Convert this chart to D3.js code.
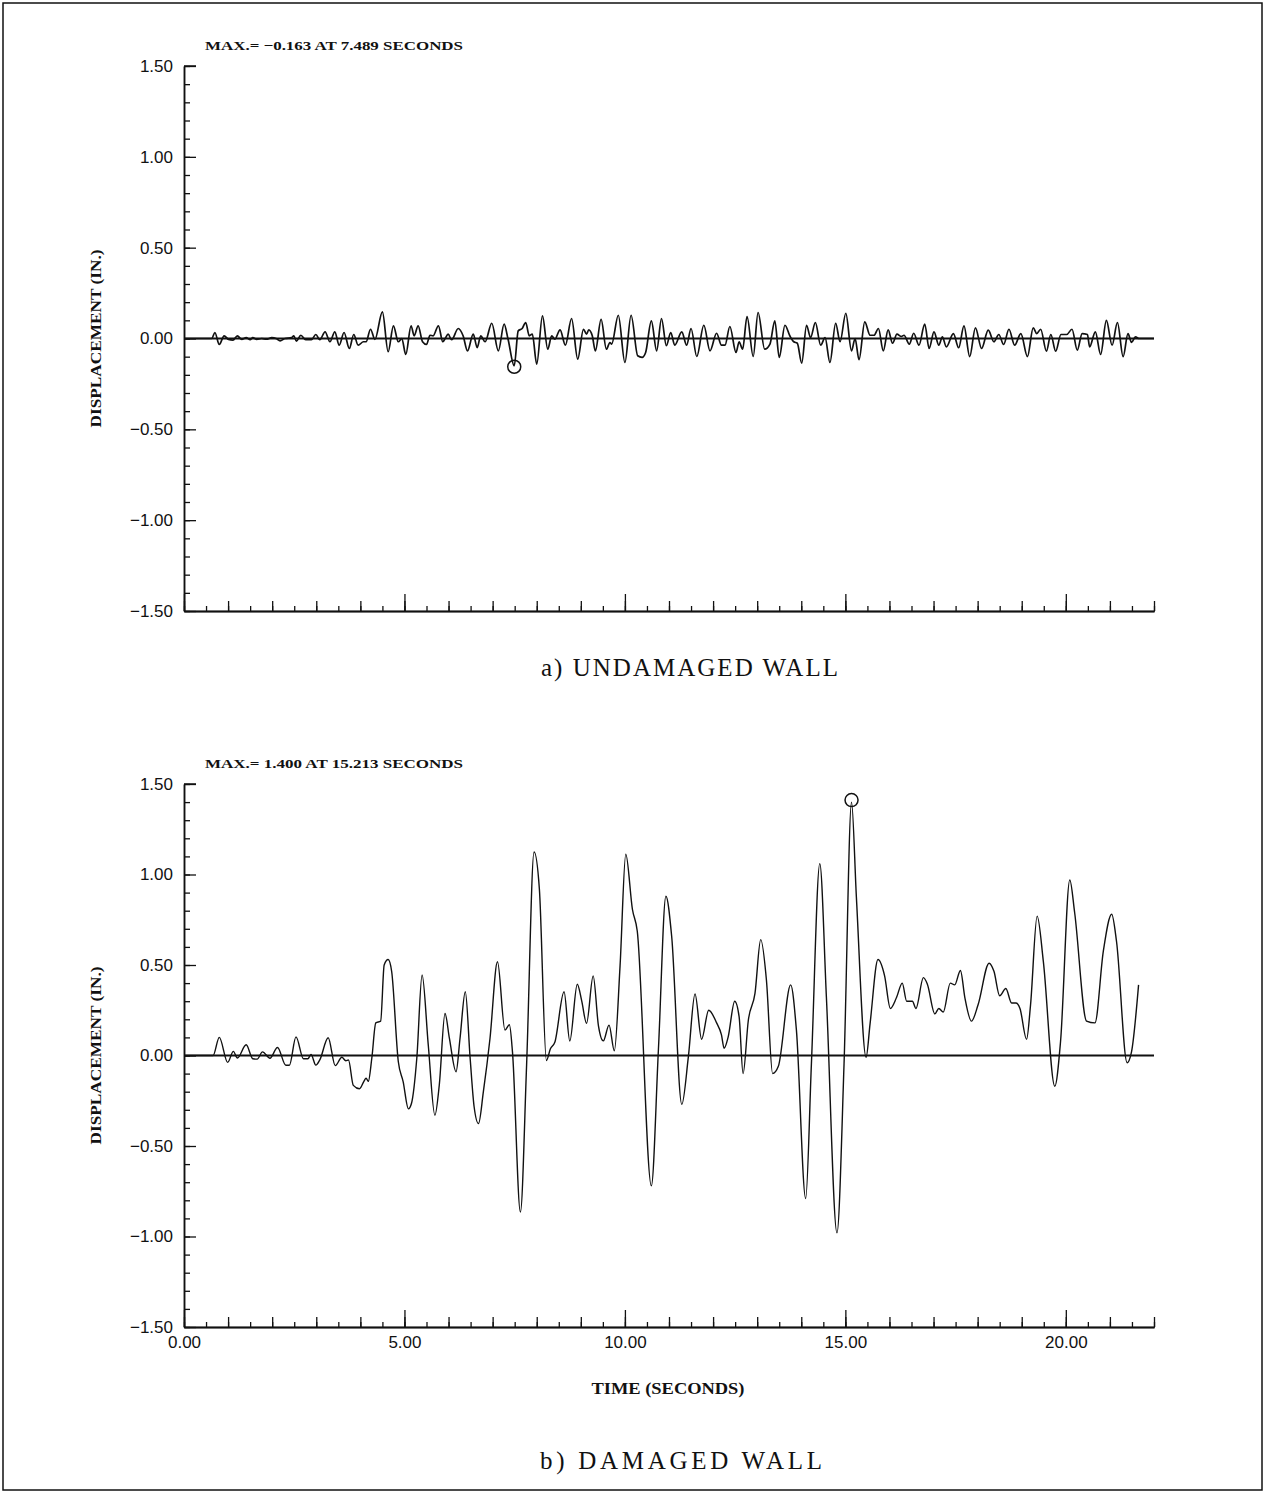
<!DOCTYPE html>
<html>
<head>
<meta charset="utf-8">
<script src="https://cdn.jsdelivr.net/npm/d3@7"></script>
<style>
  body { margin: 0; background: #fff; }
  svg { display: block; }
  .tick-label { font-family: 'Liberation Sans', Arial, sans-serif; font-size: 17px; fill: #111; }
  .plot-text { font-family: 'Liberation Serif', serif; font-weight: bold; fill: #111; }
  .title { font-family: 'Liberation Serif', serif; font-size: 25px; fill: #111; }
</style>
</head>
<body>
<svg id="chart" width="1266" height="1494"></svg>
<script>
// undamaged wall: [time (s), displacement (in.)]
const undamaged = [
  [0.00, 0], [0.63, 0], [0.70, 0.033], [0.80, -0.033], [0.91, 0.015], [1.01, -0.005], [1.11, -0.009],
  [1.21, 0.015], [1.31, -0.005], [1.41, 0.005], [1.50, -0.007], [1.56, 0.005], [1.65, -0.005], [1.76, 0],
  [1.87, -0.004], [1.99, 0.005], [2.09, 0], [2.18, -0.013], [2.29, 0], [2.44, 0.005], [2.49, 0.015],
  [2.55, -0.015], [2.65, 0.018], [2.76, -0.007], [2.89, -0.007], [2.99, 0.022], [3.08, -0.007],
  [3.20, 0.037], [3.31, -0.018], [3.42, 0.037], [3.52, -0.037], [3.63, 0.033], [3.75, -0.055],
  [3.85, 0.022], [3.95, -0.037], [4.07, -0.018], [4.13, -0.018], [4.23, 0.051], [4.33, -0.005],
  [4.50, 0.147], [4.63, -0.073], [4.75, 0.07], [4.86, -0.018], [4.94, 0], [5.03, -0.088], [5.15, 0.07],
  [5.22, 0.015], [5.31, 0.07], [5.41, -0.018], [5.50, -0.033], [5.58, 0.018], [5.65, 0.015], [5.77, 0.07],
  [5.87, -0.018], [5.93, 0.003], [5.99, 0.024], [6.07, -0.007], [6.22, 0.055], [6.33, 0.015],
  [6.43, -0.068], [6.56, 0.024], [6.65, -0.05], [6.73, 0.015], [6.83, -0.018], [6.98, 0.084],
  [7.13, -0.068], [7.26, 0.079], [7.35, -0.004], [7.49, -0.150], [7.58, 0.042], [7.67, 0.055],
  [7.75, 0.088], [7.83, 0.015], [7.90, 0.024], [8.00, -0.141], [8.13, 0.125], [8.25, -0.059],
  [8.34, 0.015], [8.41, -0.004], [8.53, 0.048], [8.65, -0.037], [8.79, 0.11], [8.93, -0.114],
  [9.06, 0.051], [9.13, 0.024], [9.18, 0.048], [9.26, 0.015], [9.33, -0.068], [9.46, 0.106],
  [9.58, -0.059], [9.66, -0.022], [9.70, -0.031], [9.85, 0.128], [10.00, -0.132], [10.14, 0.128],
  [10.29, -0.095], [10.39, -0.104], [10.47, -0.077], [10.60, 0.097], [10.72, -0.068], [10.83, 0.11],
  [10.94, -0.04], [11.04, 0.033], [11.13, -0.037], [11.29, 0.037], [11.40, -0.037], [11.50, 0.055],
  [11.63, -0.099], [11.79, 0.073], [11.93, -0.068], [12.08, 0.029], [12.19, -0.037], [12.27, -0.037],
  [12.38, 0.066], [12.52, -0.077], [12.59, -0.018], [12.67, -0.059], [12.77, 0.121], [12.91, -0.099],
  [13.02, 0.143], [13.17, -0.059], [13.29, -0.031], [13.40, 0.097], [13.50, -0.104], [13.63, 0.073],
  [13.74, 0.015], [13.83, -0.018], [13.91, -0.026], [14.01, -0.136], [14.12, 0.073], [14.21, 0.005],
  [14.32, 0.088], [14.44, -0.037], [14.54, 0.005], [14.65, -0.132], [14.78, 0.084], [14.88, -0.018],
  [15.01, 0.139], [15.14, -0.068], [15.22, 0], [15.31, -0.117], [15.44, 0.092], [15.56, 0.018],
  [15.65, 0.018], [15.75, 0.055], [15.86, -0.068], [15.97, 0.048], [16.07, -0.026], [16.17, 0.024],
  [16.27, 0.011], [16.33, 0.018], [16.45, -0.031], [16.55, 0.029], [16.67, -0.037], [16.80, 0.079],
  [16.90, -0.055], [17.01, 0.037], [17.12, -0.037], [17.20, 0.009], [17.29, -0.046], [17.45, 0.027],
  [17.57, -0.051], [17.69, 0.07], [17.82, -0.1], [17.95, 0.059], [18.09, -0.055], [18.24, 0.046],
  [18.37, -0.018], [18.48, 0.022], [18.59, -0.033], [18.71, 0.051], [18.84, -0.037], [18.98, 0.027],
  [19.13, -0.1], [19.26, 0.059], [19.34, 0.027], [19.43, 0.051], [19.56, -0.07], [19.66, 0.022],
  [19.77, -0.07], [19.89, 0.022], [20.02, 0.022], [20.14, 0.051], [20.26, -0.064], [20.37, 0.027],
  [20.49, 0.022], [20.54, -0.046], [20.67, 0.037], [20.79, -0.088], [20.92, 0.1], [21.05, -0.037],
  [21.17, 0.088], [21.30, -0.1], [21.41, 0.027], [21.49, -0.022], [21.58, 0.009], [21.66, 0],
  [21.75, 0], [22.00, 0]
]

// damaged wall: [time (s), displacement (in.)]
const damaged = [
  [0.00, 0], [0.66, 0], [0.80, 0.10], [0.99, -0.038], [1.12, 0.023], [1.21, -0.014], [1.41, 0.059],
  [1.56, -0.018], [1.66, -0.02], [1.78, 0.02], [1.95, -0.015], [2.12, 0.044], [2.31, -0.054],
  [2.39, -0.054], [2.54, 0.103], [2.71, -0.018], [2.81, -0.018], [2.88, 0.006], [2.99, -0.053],
  [3.08, -0.024], [3.27, 0.098], [3.43, -0.056], [3.58, -0.01], [3.67, -0.029], [3.73, -0.025],
  [3.84, -0.165], [3.98, -0.184], [4.08, -0.143], [4.13, -0.125], [4.18, -0.143], [4.26, -0.014],
  [4.35, 0.18], [4.46, 0.19], [4.54, 0.50], [4.63, 0.53], [4.71, 0.464], [4.86, -0.033], [4.97, -0.144],
  [5.09, -0.295], [5.16, -0.264], [5.28, -0.015], [5.40, 0.445], [5.54, 0.058], [5.69, -0.33],
  [5.79, -0.163], [5.92, 0.232], [6.02, 0.094], [6.17, -0.09], [6.26, 0.094], [6.38, 0.352],
  [6.49, -0.016], [6.58, -0.283], [6.68, -0.376], [6.79, -0.2], [6.94, 0.094], [7.11, 0.518],
  [7.28, 0.14], [7.38, 0.17], [7.45, 0.02], [7.63, -0.865], [7.77, -0.055], [7.94, 1.124], [8.06, 0.92],
  [8.22, -0.028], [8.31, 0.037], [8.41, 0.073], [8.62, 0.352], [8.75, 0.08], [8.92, 0.394], [9.02, 0.302],
  [9.13, 0.178], [9.28, 0.44], [9.40, 0.164], [9.51, 0.081], [9.64, 0.168], [9.76, 0.026], [9.89, 0.495],
  [10.02, 1.112], [10.17, 0.808], [10.28, 0.688], [10.60, -0.72], [10.76, 0.033], [10.93, 0.88],
  [11.06, 0.66], [11.29, -0.27], [11.44, -0.005], [11.59, 0.34], [11.74, 0.09], [11.90, 0.25],
  [12.08, 0.18], [12.19, 0.114], [12.25, 0.04], [12.34, 0.10], [12.49, 0.30], [12.59, 0.215],
  [12.68, -0.10], [12.80, 0.196], [12.95, 0.343], [13.08, 0.64], [13.21, 0.416], [13.35, -0.10],
  [13.48, -0.06], [13.76, 0.39], [13.89, 0.14], [14.10, -0.79], [14.23, -0.045], [14.42, 1.06],
  [14.57, 0.322], [14.81, -0.98], [14.97, -0.047], [15.14, 1.40], [15.25, 0.875], [15.47, -0.01],
  [15.56, 0.175], [15.74, 0.53], [15.89, 0.44], [16.02, 0.26], [16.16, 0.32], [16.29, 0.40],
  [16.39, 0.30], [16.52, 0.30], [16.60, 0.26], [16.77, 0.43], [16.86, 0.394], [17.03, 0.23],
  [17.12, 0.26], [17.22, 0.24], [17.38, 0.40], [17.48, 0.39], [17.61, 0.47], [17.71, 0.32],
  [17.86, 0.19], [18.01, 0.28], [18.26, 0.51], [18.37, 0.465], [18.50, 0.33], [18.64, 0.37],
  [18.77, 0.29], [18.87, 0.29], [18.96, 0.26], [19.11, 0.09], [19.20, 0.28], [19.35, 0.77],
  [19.49, 0.52], [19.75, -0.17], [19.88, 0.076], [20.09, 0.97], [20.20, 0.79], [20.47, 0.19],
  [20.66, 0.18], [20.85, 0.575], [21.04, 0.78], [21.15, 0.63], [21.39, -0.04], [21.49, 0.02],
  [21.65, 0.39]
]

const xMajorTicks = [0, 5, 10, 15, 20]
const yMajorTicks = [-1.5, -1.0, -0.5, 0, 0.5, 1.0, 1.5]
const maxLabels = ['MAX.=  \u22120.163  AT  7.489  SECONDS', 'MAX.=  1.400  AT  15.213  SECONDS']
const titles = ['a)  UNDAMAGED  WALL', 'b)  DAMAGED  WALL']

const svg = d3.select('#chart')

// outer frame
svg.append('rect')
  .attr('x', 3).attr('y', 3)
  .attr('width', 1259).attr('height', 1487)
  .attr('fill', 'none').attr('stroke', '#111').attr('stroke-width', 1.5)

const x = d3.scaleLinear().domain([0, 22]).range([184, 1154])

function drawPanel(data, opts) {
  const y = d3.scaleLinear().domain([-1.5, 1.5]).range([opts.bottom, opts.top])
  const g = svg.append('g')

  // y minor / major ticks (pointing inward)
  g.append('g')
    .attr('transform', `translate(${x(0)},0)`)
    .call(d3.axisRight(y).tickValues(d3.range(-1.5, 1.51, 0.1)).tickSize(6).tickSizeOuter(0).tickFormat(''))
  g.append('g')
    .attr('transform', `translate(${x(0)},0)`)
    .call(d3.axisRight(y).tickValues(yMajorTicks).tickSize(12).tickSizeOuter(0).tickFormat(''))
  // y labels
  g.append('g')
    .attr('transform', `translate(${x(0)},0)`)
    .call(d3.axisLeft(y).tickValues(yMajorTicks).tickSize(0).tickPadding(11).tickFormat(d3.format('.2f')))
    .call(a => a.select('.domain').remove())
    .selectAll('text').attr('class', 'tick-label').attr('font-size', null).attr('font-family', null)

  // x ticks (pointing up): half seconds, seconds, five seconds
  const bottom = g.append('g').attr('transform', `translate(0,${opts.bottom})`)
  bottom.append('g').call(d3.axisBottom(x).tickValues(d3.range(0, 22.01, 0.5)).tickSize(-5).tickSizeOuter(0).tickFormat(''))
  bottom.append('g').call(d3.axisBottom(x).tickValues(d3.range(0, 22.01, 1)).tickSize(-10).tickSizeOuter(0).tickFormat(''))
  bottom.append('g').call(d3.axisBottom(x).tickValues(xMajorTicks).tickSize(-17).tickSizeOuter(0).tickFormat(''))
  if (opts.xLabels) {
    bottom.append('g').call(d3.axisBottom(x).tickValues(xMajorTicks).tickSize(0).tickPadding(9).tickFormat(d3.format('.2f')))
      .call(a => a.select('.domain').remove())
      .selectAll('text').attr('class', 'tick-label').attr('font-size', null).attr('font-family', null)
  }
  g.selectAll('.domain').attr('stroke', '#111').attr('stroke-width', 1.5)
  g.selectAll('.tick line').attr('stroke', '#111').attr('stroke-width', 1.3)
  // top end tick of the y axis
  g.append('line')
    .attr('x1', x(0)).attr('x2', x(0) + 12)
    .attr('y1', y(1.5)).attr('y2', y(1.5))
    .attr('stroke', '#111').attr('stroke-width', 1.5)

  // zero line
  g.append('line')
    .attr('x1', x(0)).attr('x2', x(22))
    .attr('y1', y(0)).attr('y2', y(0))
    .attr('stroke', '#111').attr('stroke-width', 1.8)

  // response curve
  const line = d3.line()
    .x(d => x(d[0]))
    .y(d => y(d[1]))
    .curve(d3.curveMonotoneX)
  g.append('path')
    .datum(data)
    .attr('d', line)
    .attr('fill', 'none')
    .attr('stroke', '#111')
    .attr('stroke-width', opts.lineWidth)
    .attr('stroke-linejoin', 'round')

  // circle at the extreme value
  const peak = data.reduce((a, b) => Math.abs(b[1]) > Math.abs(a[1]) ? b : a)
  g.append('circle')
    .attr('cx', x(peak[0]))
    .attr('cy', y(peak[1]) + (peak[1] < 0 ? 1 : -2))
    .attr('r', 6.5)
    .attr('fill', 'none')
    .attr('stroke', '#111')
    .attr('stroke-width', 1.5)

  // max text
  g.append('text')
    .attr('class', 'plot-text')
    .attr('x', 205).attr('y', opts.top - 16)
    .attr('font-size', 13)
    .attr('textLength', 258).attr('lengthAdjust', 'spacingAndGlyphs')
    .text(opts.maxLabel)

  // y title
  g.append('text')
    .attr('class', 'plot-text')
    .attr('transform', `translate(101,${y(0)}) rotate(-90)`)
    .attr('text-anchor', 'middle')
    .attr('font-size', 15)
    .attr('textLength', 178).attr('lengthAdjust', 'spacingAndGlyphs')
    .text('DISPLACEMENT  (IN.)')

  // panel caption
  svg.append('text')
    .attr('class', 'title')
    .attr('x', opts.titleX).attr('y', opts.titleY)
    .attr('textLength', opts.titleLen).attr('lengthAdjust', 'spacing')
    .text(opts.title)
}

drawPanel(undamaged, {
  top: 66, bottom: 611, lineWidth: 1.7, xLabels: false,
  maxLabel: maxLabels[0], title: titles[0], titleX: 541, titleY: 676, titleLen: 297
})
drawPanel(damaged, {
  top: 784, bottom: 1327, lineWidth: 1.4, xLabels: true,
  maxLabel: maxLabels[1], title: titles[1], titleX: 540, titleY: 1469, titleLen: 282
})

// x title
svg.append('text')
  .attr('class', 'plot-text')
  .attr('x', 668).attr('y', 1394)
  .attr('text-anchor', 'middle')
  .attr('font-size', 16)
  .attr('textLength', 153).attr('lengthAdjust', 'spacingAndGlyphs')
  .text('TIME  (SECONDS)')
</script>
</body>
</html>
